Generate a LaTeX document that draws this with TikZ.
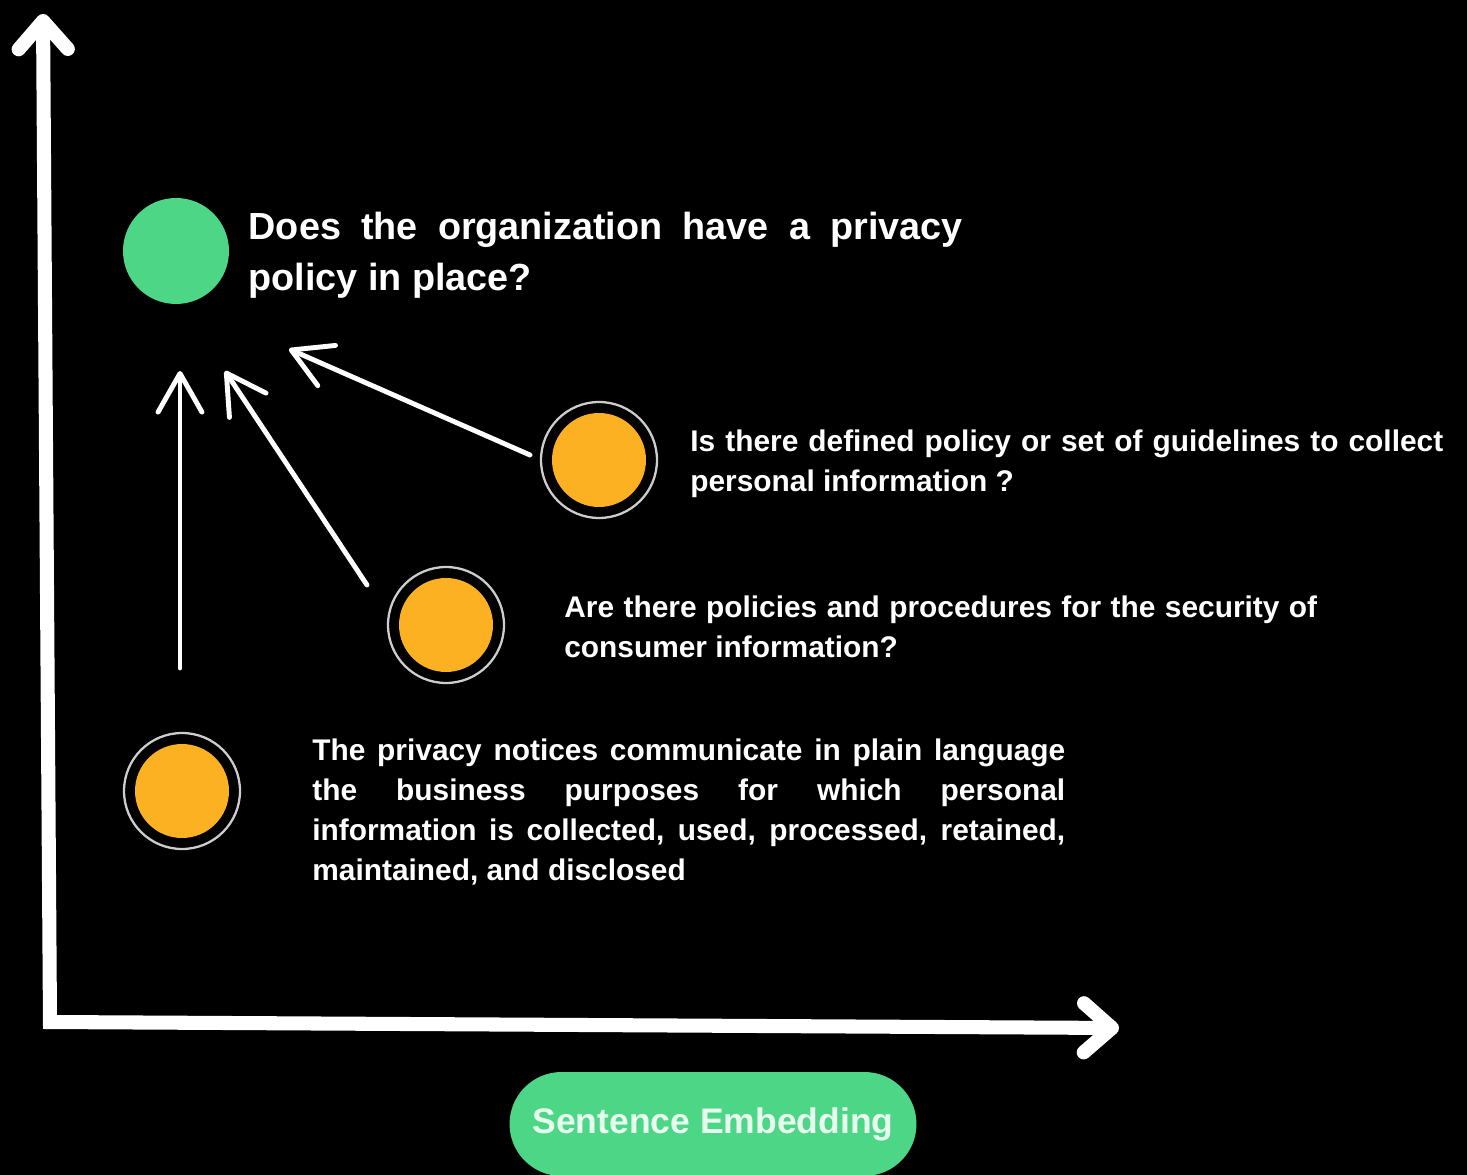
\documentclass[tikz,border=0pt]{standalone}
\usepackage{fontspec}
\setmainfont{Liberation Sans}
\usetikzlibrary{arrows.meta,positioning}
\definecolor{dotgreen}{RGB}{78,214,135}
\definecolor{dotorange}{RGB}{251,177,34}
\definecolor{ringgray}{RGB}{205,205,205}
\definecolor{pilltext}{RGB}{232,255,240}
\newcommand{\spreadline}[2][15.06cm]{\makebox[#1][s]{#2}}

\begin{document}
\begin{tikzpicture}[x=0.02cm,y=-0.02cm,line join=round,line cap=round,
  axis/.style={white,line width=8pt,line join=miter,
    {Straight Barb[length=16pt,width=28pt,line cap=round,line join=round]}-{Straight Barb[length=16pt,width=28pt,line cap=round,line join=round]}},
  arr/.style={white,line width=2.8pt,-{Straight Barb[length=22pt,width=25pt,line cap=round,line join=round]}},
  bigdot/.style={circle,fill=dotgreen,inner sep=0pt,minimum size=2.12cm},
  dot/.style={circle,fill=dotorange,inner sep=0pt,minimum size=1.88cm},
  ring/.style={draw=ringgray,line width=1.3pt},
  title/.style={white,align=left,inner sep=0pt,font=\fontsize{21.5}{29}\selectfont\bfseries},
  qtext/.style={white,align=left,inner sep=0pt,font=\fontsize{17}{22.7}\selectfont\bfseries},
  pill/.style={fill=dotgreen,rounded corners=1.04cm,minimum width=8.14cm,minimum height=2.08cm,
    text=pilltext,font=\fontsize{20.2}{24}\selectfont\bfseries}]
\path[use as bounding box,fill=black](0,0) rectangle (1467,1175);

\coordinate (O) at (50,1022);
\coordinate (Y) at (43,14);
\coordinate (X) at (1119,1028);
\draw[axis](Y)--(O)--(X);

\node[bigdot] (g) at (176,251) {};
\node[title,right=0.38cm of g,yshift=-0.08cm] (q0) {\spreadline[14.28cm]{Does the organization have a privacy}\\policy in place?};

\node[dot] (o1) at (599,460) {};
\node[dot] (o2) at (446,625) {};
\node[dot] (o3) at (182,791) {};
\draw[ring](o1) circle[radius=1.16cm];
\draw[ring](o2) circle[radius=1.16cm];
\draw[ring](o3) circle[radius=1.16cm];

\node[qtext,anchor=west] (q1) at (690,464) {\spreadline{Is there defined policy or set of guidelines to collect}\\personal information ?};
\node[qtext,anchor=west] (q2) at (564,627) {\spreadline{Are there policies and procedures for the security of}\\consumer information?};
\node[qtext,anchor=west] (q3) at (312,812) {\spreadline{The privacy notices communicate in plain language}\\
  \spreadline{the business purposes for which personal}\\
  \spreadline{information is collected, used, processed, retained,}\\
  maintained, and disclosed};

\coordinate (o1s) at (530,455);
\coordinate (o1e) at (289,349);
\coordinate (o2s) at (367,585);
\coordinate (o2e) at (225,371);
\coordinate (o3s) at (180,668);
\coordinate (o3e) at (180,371);
\draw[arr](o1s)--(o1e);
\draw[arr](o2s)--(o2e);
\draw[arr](o3s)--(o3e);

\node[pill] (emb) at (713,1124) {Sentence Embedding};
\end{tikzpicture}
\end{document}
